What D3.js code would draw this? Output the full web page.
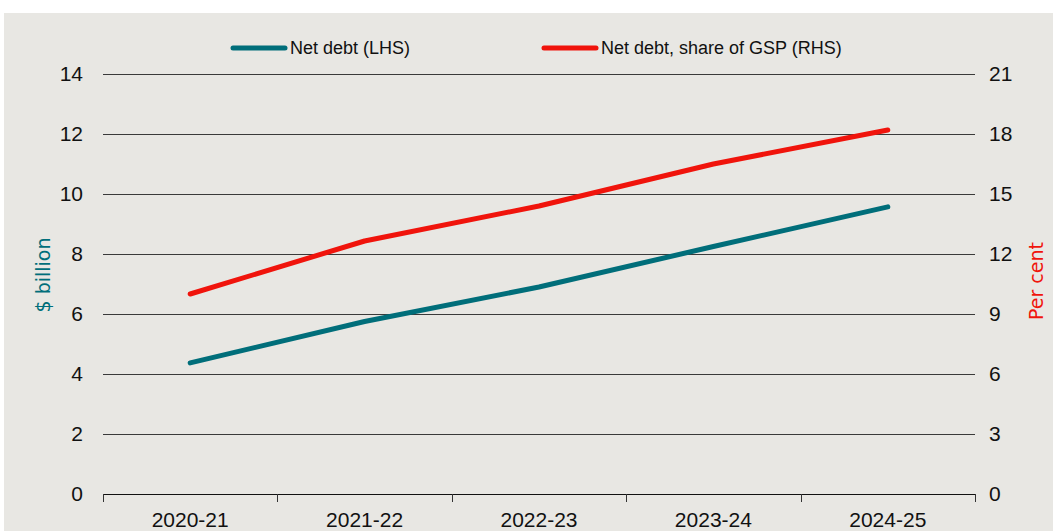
<!DOCTYPE html>
<html>
<head>
<meta charset="utf-8">
<script src="https://cdn.jsdelivr.net/npm/d3@7"></script>
<style>
  body { margin: 0; background: #fff; }
</style>
</head>
<body>
<svg id="chart" width="1053" height="531"></svg>
<script>
// data
const years = ["2020-21", "2021-22", "2022-23", "2023-24", "2024-25"];
const netDebt = [4.37, 5.75, 6.9, 8.25, 9.57];          // $ billion (LHS)
const netDebtShare = [10.0, 12.65, 14.4, 16.5, 18.2];   // per cent of GSP (RHS)
const leftTicks = [0, 2, 4, 6, 8, 10, 12, 14];
const rightTicks = [0, 3, 6, 9, 12, 15, 18, 21];

const teal = "#006e7a", red = "#f0140c";
const font = "'Liberation Sans', Arial, sans-serif";

const margin = { top: 74, right: 78, bottom: 37, left: 103 };
const W = 1053, H = 531;
const width = W - margin.left - margin.right,
    height = H - margin.top - margin.bottom;

const svg = d3.select("#chart");

svg.append("rect")
    .attr("x", 4).attr("y", 13)
    .attr("width", W - 4).attr("height", H - 13)
    .attr("fill", "#e8e7e3");

const g = svg.append("g")
    .attr("transform", `translate(${margin.left},${margin.top})`);

const x = d3.scaleBand().domain(years).range([0, width]);
const yL = d3.scaleLinear().domain([0, 14]).range([height, 0]);
const yR = d3.scaleLinear().domain([0, 21]).range([height, 0]);

// gridlines
g.append("g")
    .selectAll("line")
    .data(leftTicks)
    .join("line")
    .attr("x1", 0).attr("x2", width)
    .attr("y1", d => Math.round(yL(d)) + 0.5)
    .attr("y2", d => Math.round(yL(d)) + 0.5)
    .attr("stroke", "#3a3a3a")
    .attr("stroke-width", 1);

// x axis
const xAxis = g.append("g")
    .attr("transform", `translate(0,${height})`);
xAxis.append("line")
    .attr("x1", 0).attr("x2", width)
    .attr("y1", 0.5).attr("y2", 0.5)
    .attr("stroke", "#111");
xAxis.selectAll(".tk")
    .data(years.concat(["end"]))
    .join("line")
    .attr("x1", (d, i) => Math.round(i * x.step()) + 0.5)
    .attr("x2", (d, i) => Math.round(i * x.step()) + 0.5)
    .attr("y1", 0).attr("y2", 8)
    .attr("stroke", "#333");
xAxis.selectAll("text")
    .data(years)
    .join("text")
    .attr("x", d => x(d) + x.bandwidth() / 2)
    .attr("y", 33)
    .attr("text-anchor", "middle")
    .attr("font-family", font)
    .attr("font-size", 21)
    .attr("fill", "#111")
    .text(d => d);

// y tick labels
g.append("g")
    .selectAll("text")
    .data(leftTicks)
    .join("text")
    .attr("x", -20)
    .attr("y", d => yL(d))
    .attr("dy", "0.35em")
    .attr("text-anchor", "end")
    .attr("font-family", font)
    .attr("font-size", 21)
    .attr("fill", "#111")
    .text(d => d);

g.append("g")
    .selectAll("text")
    .data(rightTicks)
    .join("text")
    .attr("x", width + 14)
    .attr("y", d => yR(d))
    .attr("dy", "0.35em")
    .attr("text-anchor", "start")
    .attr("font-family", font)
    .attr("font-size", 21)
    .attr("fill", "#111")
    .text(d => d);

// axis titles
svg.append("text")
    .attr("transform", "translate(50,275) rotate(-90)")
    .attr("text-anchor", "middle")
    .attr("font-family", "'DejaVu Sans', sans-serif")
    .attr("font-size", 19)
    .attr("fill", teal)
    .text("$ billion");

svg.append("text")
    .attr("transform", "translate(1043,281) rotate(-90)")
    .attr("text-anchor", "middle")
    .attr("font-family", "'DejaVu Sans', sans-serif")
    .attr("font-size", 19)
    .attr("fill", red)
    .text("Per cent");

// lines
const cx = d => x(d) + x.bandwidth() / 2;

const lineL = d3.line().x((d, i) => cx(years[i])).y(d => yL(d));
const lineR = d3.line().x((d, i) => cx(years[i])).y(d => yR(d));

g.append("path")
    .datum(netDebtShare)
    .attr("d", lineR)
    .attr("fill", "none")
    .attr("stroke", red)
    .attr("stroke-width", 5)
    .attr("stroke-linecap", "round")
    .attr("stroke-linejoin", "round");

g.append("path")
    .datum(netDebt)
    .attr("d", lineL)
    .attr("fill", "none")
    .attr("stroke", teal)
    .attr("stroke-width", 5)
    .attr("stroke-linecap", "round")
    .attr("stroke-linejoin", "round");

// legend
const legendItems = [
    { label: "Net debt (LHS)", color: teal, x: 231 },
    { label: "Net debt, share of GSP (RHS)", color: red, x: 542 }
];
const legend = svg.append("g")
    .selectAll("g")
    .data(legendItems)
    .join("g")
    .attr("transform", d => `translate(${d.x},48)`);
legend.append("line")
    .attr("x1", 2).attr("x2", 54)
    .attr("y1", 0).attr("y2", 0)
    .attr("stroke", d => d.color)
    .attr("stroke-width", 5)
    .attr("stroke-linecap", "round");
legend.append("text")
    .attr("x", 59)
    .attr("dy", "0.35em")
    .attr("font-family", font)
    .attr("font-size", 18)
    .attr("fill", "#111")
    .text(d => d.label);
</script>
</body>
</html>
